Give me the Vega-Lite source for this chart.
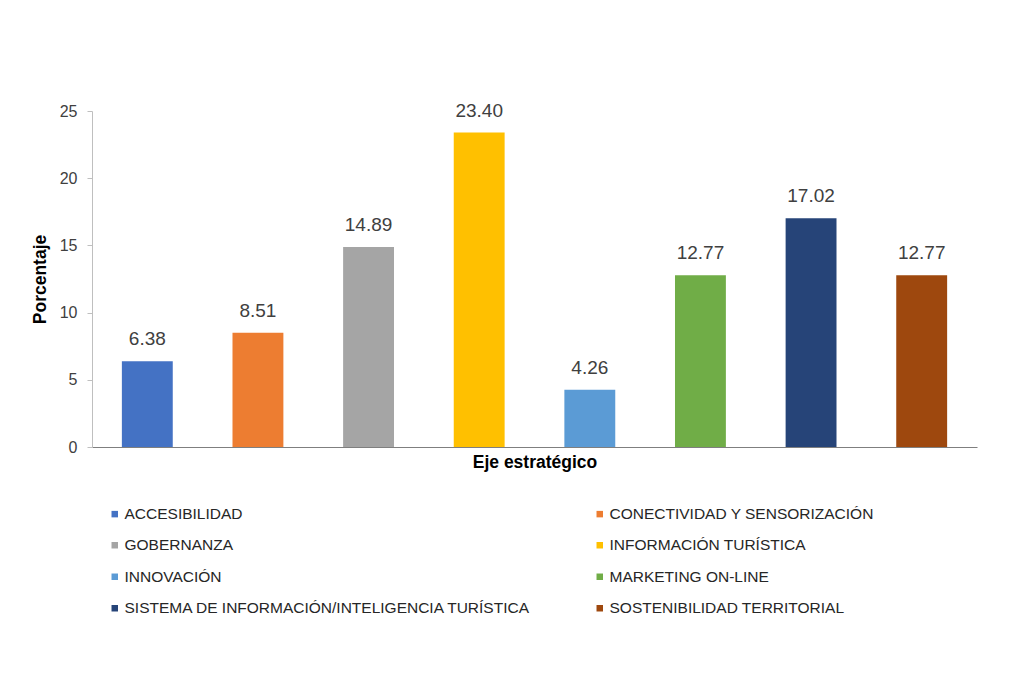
{
  "$schema": "https://vega.github.io/schema/vega-lite/v6.json",
  "width": 885,
  "height": 336,
  "autosize": {"type": "none"},
  "padding": {"left": 92, "top": 111, "right": 57, "bottom": 249},
  "background": "white",
  "data": {
    "values": [
      {"eje": "ACCESIBILIDAD", "pct": 6.38},
      {"eje": "CONECTIVIDAD Y SENSORIZACIÓN", "pct": 8.51},
      {"eje": "GOBERNANZA", "pct": 14.89},
      {"eje": "INFORMACIÓN TURÍSTICA", "pct": 23.40},
      {"eje": "INNOVACIÓN", "pct": 4.26},
      {"eje": "MARKETING ON-LINE", "pct": 12.77},
      {"eje": "SISTEMA DE INFORMACIÓN/INTELIGENCIA TURÍSTICA", "pct": 17.02},
      {"eje": "SOSTENIBILIDAD TERRITORIAL", "pct": 12.77}
    ]
  },
  "config": {
    "font": "Liberation Sans",
    "view": {"stroke": null},
    "axis": {"grid": false}
  },
  "encoding": {
    "x": {
      "field": "eje",
      "type": "nominal",
      "sort": null,
      "scale": {"paddingInner": 0.54, "paddingOuter": 0.27},
      "axis": {
        "title": "Eje estratégico",
        "labels": false,
        "ticks": false,
        "domainColor": "#7f7f7f",
        "domainWidth": 1.2,
        "titleFontSize": 17.5,
        "titleFontWeight": "bold",
        "titleColor": "#000000",
        "titlePadding": 6
      }
    },
    "y": {
      "field": "pct",
      "type": "quantitative",
      "scale": {"domain": [0, 25], "nice": false},
      "axis": {
        "title": "Porcentaje",
        "values": [0, 5, 10, 15, 20, 25],
        "domainColor": "#bfbfbf",
        "tickColor": "#bfbfbf",
        "tickSize": 5,
        "labelPadding": 10,
        "labelFontSize": 16,
        "labelColor": "#404040",
        "titleFontSize": 17.5,
        "titleFontWeight": "bold",
        "titleColor": "#000000",
        "titlePadding": 10
      }
    }
  },
  "layer": [
    {
      "mark": {"type": "bar"},
      "encoding": {
        "color": {
          "field": "eje",
          "type": "nominal",
          "sort": null,
          "scale": {
            "range": ["#4472C4", "#ED7D31", "#A5A5A5", "#FFC000", "#5B9BD5", "#70AD47", "#264478", "#9E480E"]
          },
          "legend": {
            "title": null,
            "orient": "none",
            "direction": "horizontal",
            "legendX": 15,
            "legendY": 395,
            "columns": 2,
            "columnPadding": 61,
            "rowPadding": 14.5,
            "padding": 0,
            "symbolType": "square",
            "symbolSize": 42,
            "symbolStrokeWidth": 0,
            "labelFontSize": 15.5,
            "labelColor": "#262626",
            "labelOffset": 2,
            "labelLimit": 600
          }
        }
      }
    },
    {
      "mark": {"type": "text", "baseline": "middle", "dy": -22, "fontSize": 19, "color": "#404040"},
      "encoding": {
        "text": {"field": "pct", "type": "quantitative", "format": ".2f"}
      }
    }
  ]
}
